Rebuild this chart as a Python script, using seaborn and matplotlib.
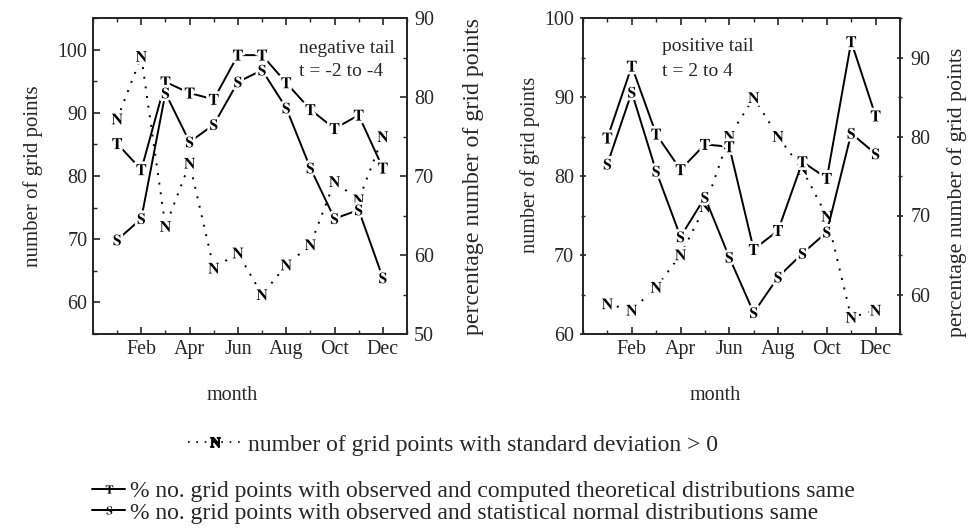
import seaborn as sns
import matplotlib.pyplot as plt
import matplotlib.patheffects as pe
from matplotlib.lines import Line2D
from matplotlib.ticker import MultipleLocator

# monthly values
months = [1, 2, 3, 4, 5, 6, 7, 8, 9, 10, 11, 12]
tick_months = [2, 4, 6, 8, 10, 12]
tick_names = ['Feb', 'Apr', 'Jun', 'Aug', 'Oct', 'Dec']

# negative tail, t = -2 to -4
neg_N = [89.0, 98.9, 72.0, 82.0, 65.4, 67.8, 61.2, 65.9, 69.1, 79.1, 76.2, 86.2]
neg_T = [74.1, 70.8, 81.9, 80.5, 79.7, 85.3, 85.3, 81.8, 78.4, 76.0, 77.7, 71.0]
neg_S = [61.9, 64.6, 80.5, 74.3, 76.5, 81.9, 83.4, 78.6, 71.0, 64.6, 65.7, 57.1]

# positive tail, t = 2 to 4
pos_N = [63.8, 63.0, 65.9, 70.0, 76.1, 85.0, 89.9, 85.0, 80.8, 74.9, 62.1, 63.0]
pos_T = [79.8, 88.9, 80.3, 75.8, 79.0, 78.7, 65.7, 68.1, 76.8, 74.7, 92.0, 82.6]
pos_S = [76.5, 85.6, 75.6, 67.3, 72.3, 64.7, 57.7, 62.2, 65.2, 67.9, 80.4, 77.8]

lab_N = 'number of grid points with standard deviation > 0'
lab_T = '% no. grid points with observed and computed theoretical distributions same'
lab_S = '% no. grid points with observed and statistical normal distributions same'

sns.set_style('ticks')
plt.rcParams['font.family'] = ['Liberation Serif', 'DejaVu Serif']
plt.rcParams['mathtext.fontset'] = 'stix'
plt.rcParams['axes.linewidth'] = 1.3

dotted = (0, (1, 4))
halo = [pe.withStroke(linewidth=4, foreground='white')]


def draw(ax, vals, letter, ls, lw):
    sns.lineplot(x=months, y=vals, ax=ax, color='k', linestyle=ls, linewidth=lw, zorder=2)
    sns.scatterplot(x=months, y=vals, ax=ax, marker='$\\mathbf{%s}$' % letter, s=62,
                    color='k', linewidth=0, zorder=3, path_effects=halo)


def panel(ax, N, T, S, left_lim, right_lim, tdir, texts, tx, tys,
          lab_l, size_l, lab_r, size_r, mx):
    ax2 = ax.twinx()
    draw(ax, N, 'N', dotted, 1.4)
    draw(ax2, T, 'T', '-', 1.4)
    draw(ax2, S, 'S', '-', 1.4)

    ax.set_xlim(0, 13)
    ax.set_xticks(tick_months, tick_names)
    ax.xaxis.set_minor_locator(MultipleLocator(1))
    ax.set_ylim(*left_lim)
    ax.yaxis.set_major_locator(MultipleLocator(10))
    ax.yaxis.set_minor_locator(MultipleLocator(5))
    ax2.set_ylim(*right_lim)
    ax2.yaxis.set_major_locator(MultipleLocator(10))
    ax2.yaxis.set_minor_locator(MultipleLocator(5))

    ax.tick_params(axis='x', which='both', direction='in', top=True, bottom=True, pad=4)
    ax.tick_params(axis='y', which='both', direction=tdir, left=True, right=False, pad=4)
    ax2.tick_params(axis='y', which='both', direction=tdir, right=True, left=False, pad=5)
    for a in (ax, ax2):
        a.tick_params(which='major', length=5, width=1.2, labelsize=14.4)
        a.tick_params(which='minor', length=3, width=1.0)

    ax.set_xlabel('month', fontsize=14.5)
    ax.xaxis.set_label_coords(mx, -0.163)
    ax.set_ylabel('number of grid points', fontsize=size_l)
    ax.yaxis.set_label_coords(*lab_l)
    ax2.set_ylabel('percentage number of grid points', fontsize=size_r)
    ax2.yaxis.set_label_coords(*lab_r)

    for txt, ty in zip(texts, tys):
        ax.text(tx, ty, txt, transform=ax.transAxes, fontsize=14, va='center', ha='left')
    return ax2


fig = plt.figure(figsize=(9.78, 5.32), dpi=100)
ax_l = fig.add_axes([93 / 978, 1 - 334 / 532, 314 / 978, 316 / 532])
ax_r = fig.add_axes([583 / 978, 1 - 334 / 532, 317 / 978, 316 / 532])

panel(ax_l, neg_N, neg_T, neg_S, (55, 105), (50, 90), 'in',
      ['negative tail', 't = -2 to -4'], 0.655, [0.905, 0.83],
      (-0.159, 0.5), 15, (1.178, 0.5), 17.2, 0.443)
panel(ax_r, pos_N, pos_T, pos_S, (60, 100), (55, 95), 'inout',
      ['positive tail', 't = 2 to 4'], 0.25, [0.91, 0.832],
      (-0.136, 0.535), 14.6, (1.148, 0.449), 15.7, 0.416)

h_N = Line2D([], [], color='k', linestyle=dotted, linewidth=1.2,
             marker='$\\mathbf{N}$', markersize=7)
h_T = Line2D([], [], color='k', linestyle='-', linewidth=1.4,
             marker='$\\mathbf{T}$', markersize=6, markeredgewidth=0)
h_S = Line2D([], [], color='k', linestyle='-', linewidth=1.4,
             marker='$\\mathbf{S}$', markersize=6, markeredgewidth=0)

fig.legend(handles=[h_N], labels=[lab_N], loc='center left',
           bbox_to_anchor=(188 / 978, 1 - 445 / 532), frameon=False, fontsize=17,
           handlelength=2.3, handletextpad=0.25, borderpad=0, borderaxespad=0)
fig.legend(handles=[h_T, h_S], labels=[lab_T, lab_S], loc='center left',
           bbox_to_anchor=(92 / 978, 1 - 502 / 532), frameon=False, fontsize=17,
           handlelength=1.4, handletextpad=0.2, borderpad=0, borderaxespad=0,
           labelspacing=0.0)

fig.savefig('out.png', dpi=100)
